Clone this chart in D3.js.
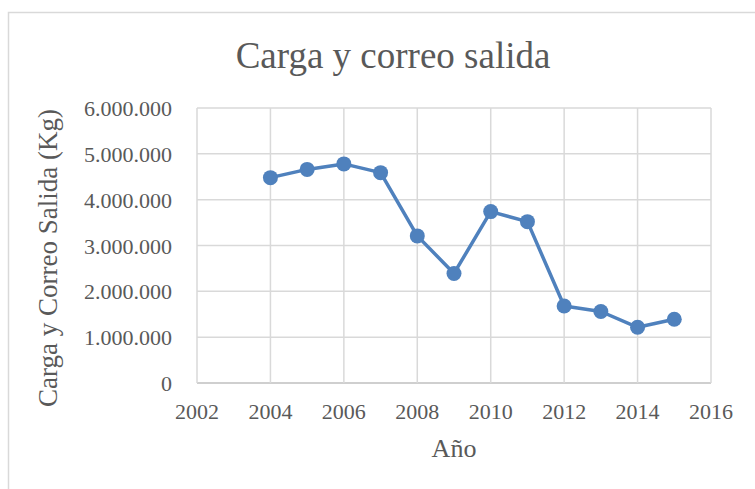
<!DOCTYPE html>
<html>
<head>
<meta charset="utf-8">
<script src="https://cdn.jsdelivr.net/npm/d3@7"></script>
<style>
  body { margin: 0; background: #fff; }
  svg text { font-family: "Liberation Serif", Tinos, "Times New Roman", Times, "DejaVu Serif", serif; fill: #595959; }
</style>
</head>
<body>
<div id="chart"></div>
<script>
// datos
var years = [2004, 2005, 2006, 2007, 2008, 2009, 2010, 2011, 2012, 2013, 2014, 2015]
var cargaKg = [4480000, 4660000, 4780000, 4590000, 3210000, 2390000, 3740000, 3520000, 1680000, 1560000, 1215000, 1390000]
var xTicks = [2002, 2004, 2006, 2008, 2010, 2012, 2014, 2016]
var yTicks = [0, 1000000, 2000000, 3000000, 4000000, 5000000, 6000000]

var chartTitle = "Carga y correo salida"
var xTitle = "Año"
var yTitle = "Carga y Correo Salida (Kg)"

const width = 755
const height = 489
const margin = {top: 108, right: 42, bottom: 106, left: 197}

const svg = d3.select('#chart')
  .append("svg")
  .attr("width", width)
  .attr("height", height)

// borde del area del grafico
svg.append("rect")
  .attr("x", 8.5)
  .attr("y", 12.5)
  .attr("width", width + 20)
  .attr("height", height + 20)
  .attr("fill", "none")
  .attr("stroke", "#d9d9d9")
  .attr("stroke-width", 1.5)

var x = d3.scaleLinear()
  .domain([2002, 2016])
  .range([margin.left, width - margin.right - 2])

var y = d3.scaleLinear()
  .domain([0, 6000000])
  .range([height - margin.bottom, margin.top])

// formato con punto como separador de miles
function fmt(v) {
  return d3.format(",")(v).replace(/,/g, ".")
}

// lineas de cuadricula
svg.append("g")
  .selectAll("line")
  .data(yTicks)
  .enter()
  .append("line")
  .attr("x1", x(2002))
  .attr("x2", x(2016))
  .attr("y1", function(d) { return y(d) })
  .attr("y2", function(d) { return y(d) })
  .attr("stroke", function(d) { return d == 0 ? "#bfbfbf" : "#d9d9d9" })
  .attr("stroke-width", 1.5)

svg.append("g")
  .selectAll("line")
  .data(xTicks)
  .enter()
  .append("line")
  .attr("x1", function(d) { return x(d) })
  .attr("x2", function(d) { return x(d) })
  .attr("y1", y(6000000))
  .attr("y2", y(0))
  .attr("stroke", "#d9d9d9")
  .attr("stroke-width", 1.5)

// etiquetas de ejes
svg.append("g")
  .selectAll("text")
  .data(yTicks)
  .enter()
  .append("text")
  .attr("x", x(2002) - 25)
  .attr("y", function(d) { return y(d) + 8 })
  .attr("text-anchor", "end")
  .style("font-size", "22px")
  .text(function(d) { return fmt(d) })

svg.append("g")
  .selectAll("text")
  .data(xTicks)
  .enter()
  .append("text")
  .attr("x", function(d) { return x(d) })
  .attr("y", 419)
  .attr("text-anchor", "middle")
  .style("font-size", "22px")
  .text(function(d) { return d })

// titulos
svg.append("text")
  .attr("x", 393)
  .attr("y", 68)
  .attr("text-anchor", "middle")
  .style("font-size", "37px")
  .text(chartTitle)

svg.append("text")
  .attr("x", (x(2002) + x(2016)) / 2)
  .attr("y", 457)
  .attr("text-anchor", "middle")
  .style("font-size", "26px")
  .text(xTitle)

svg.append("text")
  .attr("transform", "translate(57," + 258 + ") rotate(-90)")
  .attr("text-anchor", "middle")
  .style("font-size", "27px")
  .text(yTitle)

// serie
var line = d3.line()
  .x(function(d) { return x(d[0]) })
  .y(function(d) { return y(d[1]) })

svg.append("path")
  .datum(d3.zip(years, cargaKg))
  .attr("d", line)
  .attr("fill", "none")
  .attr("stroke", "#4f81bd")
  .attr("stroke-width", 3.5)
  .attr("stroke-linejoin", "round")

svg.append("g")
  .selectAll("circle")
  .data(d3.zip(years, cargaKg))
  .enter()
  .append("circle")
  .attr("cx", function(d) { return x(d[0]) })
  .attr("cy", function(d) { return y(d[1]) })
  .attr("r", 7.5)
  .style("fill", "#4f81bd")
</script>
</body>
</html>
